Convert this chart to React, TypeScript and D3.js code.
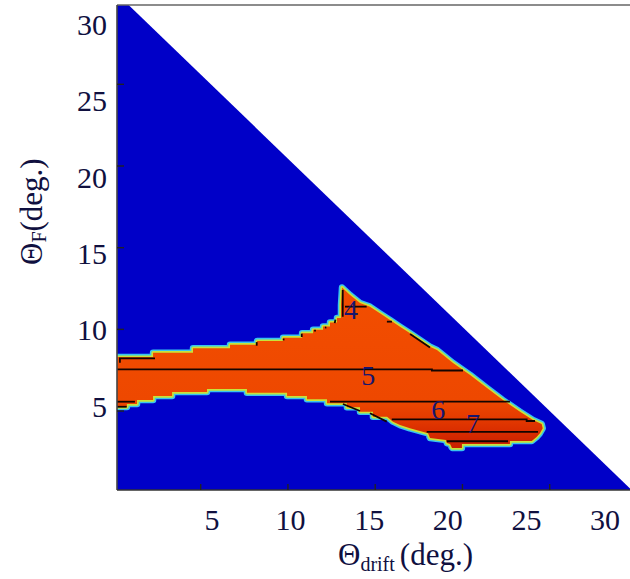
import React from "react";
import * as d3 from "d3";

// ---------- data ----------
const xTicks = [5, 10, 15, 20, 25];
const yTicks = [5, 10, 15, 20, 25];
const xTickLabels = [5, 10, 15, 20, 25, 30];
const yTickLabels = [5, 10, 15, 20, 25, 30];

// feasible (blue) wedge below the diagonal, data units
const wedgeCorners: [number, number][] = [
  [0, 0],
  [0, 30.75],
  [29.85, 0],
];

// outline of the high-value (orange) region, data units
const regionOutline: [number, number][] = [
  [0, 8.3], [2.27, 8.3], [2.27, 8.57], [4.56, 8.57], [4.56, 8.85], [6.68, 8.85], [6.68, 9.06],
  [8.23, 9.06], [8.23, 9.28], [9.72, 9.28], [9.72, 9.49], [10.81, 9.49], [10.81, 9.76],
  [11.44, 9.76], [11.44, 9.97], [12.01, 9.97], [12.01, 10.17], [12.41, 10.17], [12.41, 10.42],
  [12.81, 10.42], [12.81, 10.7], [13.04, 10.7], [13.04, 11.5], [13.1, 12.56],
  [13.56, 12.1], [14.13, 11.61], [14.7, 11.39], [15.27, 10.98], [15.85, 10.57], [16.42, 10.16],
  [17.0, 9.76], [17.57, 9.35], [18.14, 8.94], [18.54, 8.74], [19.46, 7.94], [20.44, 7.21],
  [21.41, 6.41], [22.32, 5.67], [23.3, 4.96], [24.04, 4.45], [24.54, 4.21], [24.6, 3.94],
  [24.44, 3.64], [24.25, 3.41], [23.97, 3.16],
  [22.72, 3.16], [22.72, 2.98], [19.97, 2.98], [19.97, 2.74], [19.4, 2.74], [19.29, 2.98],
  [19.11, 3.04], [19.06, 3.23], [18.14, 3.35], [18.03, 3.64], [16.99, 3.94], [16.42, 4.14],
  [16.02, 4.35], [15.68, 4.65], [14.87, 4.65], [14.87, 4.96], [14.13, 4.96], [14.13, 5.23],
  [13.38, 5.23], [13.38, 5.47], [12.24, 5.47], [12.24, 5.72], [11.09, 5.72], [11.09, 5.92],
  [9.95, 5.92], [9.95, 6.12], [7.65, 6.12], [7.65, 6.35], [5.36, 6.35], [5.36, 6.16],
  [3.36, 6.16], [3.36, 5.92], [2.27, 5.92], [2.27, 5.67], [1.35, 5.67], [1.35, 5.43],
  [0.77, 5.43], [0.77, 5.25], [0, 5.25],
];

// iso-lines of the field, data units
const contourLines: [number, number][][] = [
  [[13.27, 11.39], [14.51, 11.39]],
  [[13.14, 12.41], [13.14, 10.77]],
  [[0.37, 7.95], [0.37, 8.22], [2.38, 8.22]],
  [[17.0, 9.71], [18.14, 8.89]],
  [[15.67, 10.47], [15.96, 10.47]],
  [[8.21, 9.0], [8.21, 9.22]],
  [[9.7, 9.38], [9.8, 9.38]],
  [[10.79, 9.53], [10.79, 9.74]],
  [[11.5, 9.92], [11.6, 9.92]],
  [[12.12, 10.1], [12.2, 10.12]],
  [[12.68, 10.38], [12.72, 10.6]],
  [[0, 7.55], [18.25, 7.55], [18.25, 7.48], [20.03, 7.48]],
  [[0, 5.57], [1.23, 5.57]],
  [[12.41, 5.57], [22.72, 5.57]],
  [[13.15, 5.43], [14.13, 5.0]],
  [[15.95, 4.49], [23.68, 4.49], [23.68, 4.39], [24.16, 4.39]],
  [[14.7, 4.86], [15.66, 4.35]],
  [[17.95, 3.72], [24.33, 3.72]],
  [[19.1, 3.15], [22.61, 3.15]],
  [[0, 5.26], [0.76, 5.26]],
];

const contourLabelText = ["4", "5", "6", "7"];
const contourLabelX = [13.61, 14.6, 18.62, 20.6];
const contourLabelY = [11.25, 7.21, 5.12, 4.27];

// ---------- layout ----------
const W = 630;
const H = 579;
const frame = { left: 117, top: 5, right: 640, bottom: 490 };

const x = d3.scaleLinear().domain([0, 30]).range([113.45, 636.95]);
const y = d3.scaleLinear().domain([0, 30]).range([492.7, 2.65]);
// tick labels sit on their own (slightly offset) scales, as in the source figure
const xLab = d3.scaleLinear().domain([5, 30]).range([212, 605]);
const yLab = d3.scaleLinear().domain([5, 30]).range([416.7, 35]);

const line = d3
  .line<[number, number]>()
  .x((d) => x(d[0]))
  .y((d) => y(d[1]));

const FONT = "'Liberation Serif', 'Times New Roman', serif";
const TEXT = "#10103f";

export default function App() {
  const wedgePath = line(wedgeCorners) + "Z";
  const regionPath = line(regionOutline) + "Z";
  return (
    <svg
      width={W}
      height={H}
      style={{ position: "absolute", left: 0, top: 0, background: "#fff" }}
      fontFamily={FONT}
    >
      <defs>
        <clipPath id="plotClip">
          <rect
            x={frame.left}
            y={frame.top}
            width={frame.right - frame.left}
            height={frame.bottom - frame.top}
          />
        </clipPath>
        <linearGradient
          id="heat"
          gradientUnits="userSpaceOnUse"
          x1={0}
          x2={0}
          y1={y(12.6)}
          y2={y(2.7)}
        >
          <stop offset="0%" stopColor="#f24e00" />
          <stop offset="70%" stopColor="#ee4800" />
          <stop offset="80%" stopColor="#e63c00" />
          <stop offset="90%" stopColor="#d82c00" />
          <stop offset="100%" stopColor="#c81e00" />
        </linearGradient>
      </defs>

      <rect x={0} y={0} width={W} height={H} fill="#fff" />

      <g clipPath="url(#plotClip)">
        <path d={wedgePath} fill="#0000c8" />
        <path d={regionPath} fill="none" stroke="#38c4ee" strokeWidth={6.5} strokeLinejoin="round" />
        <path d={regionPath} fill="none" stroke="#c8e23a" strokeWidth={3.4} strokeLinejoin="round" />
        <path d={regionPath} fill="url(#heat)" />
        {contourLines.map((pts, i) => (
          <path key={i} d={line(pts) || ""} fill="none" stroke="#140400" strokeWidth={1.8} />
        ))}
        {contourLabelText.map((t, i) => (
          <text
            key={t}
            x={x(contourLabelX[i])}
            y={y(contourLabelY[i])}
            dy="0.35em"
            textAnchor="middle"
            fontSize={28}
            fill="#16166e"
          >
            {t}
          </text>
        ))}
      </g>

      {/* frame */}
      <line x1={frame.left} x2={frame.right} y1={frame.top} y2={frame.top} stroke="#666" strokeWidth={1.4} />
      <line x1={frame.left} x2={frame.left} y1={frame.top} y2={frame.bottom} stroke="#444" strokeWidth={1.6} />
      <line x1={frame.left} x2={frame.right} y1={frame.bottom} y2={frame.bottom} stroke="#333" strokeWidth={1.6} />

      {/* ticks */}
      {xTicks.map((t) => (
        <line key={"xt" + t} x1={x(t)} x2={x(t)} y1={frame.bottom} y2={frame.bottom - 6} stroke="#222" strokeWidth={1.4} />
      ))}
      {yTicks.map((t) => (
        <line key={"yt" + t} x1={frame.left} x2={frame.left + 7} y1={y(t)} y2={y(t)} stroke="#222" strokeWidth={1.4} />
      ))}

      {/* tick labels */}
      {xTickLabels.map((t) => (
        <text key={"xl" + t} x={xLab(t)} y={530} textAnchor="middle" fontSize={30} fill={TEXT}>
          {t}
        </text>
      ))}
      {yTickLabels.map((t) => (
        <text key={"yl" + t} x={107} y={yLab(t)} textAnchor="end" fontSize={30} fill={TEXT}>
          {t}
        </text>
      ))}

      {/* axis titles */}
      <text x={338} y={565} fontSize={31} fill={TEXT}>
        <tspan>Θ</tspan>
        <tspan fontSize={20} dy={6}>drift </tspan>
        <tspan dy={-6}>(deg.)</tspan>
      </text>
      <text transform="translate(41.5,265) rotate(-90)" fontSize={31} fill={TEXT}>
        <tspan>Θ</tspan>
        <tspan fontSize={20} dy={4}>F</tspan>
        <tspan dy={-4}>(deg.)</tspan>
      </text>
    </svg>
  );
}
